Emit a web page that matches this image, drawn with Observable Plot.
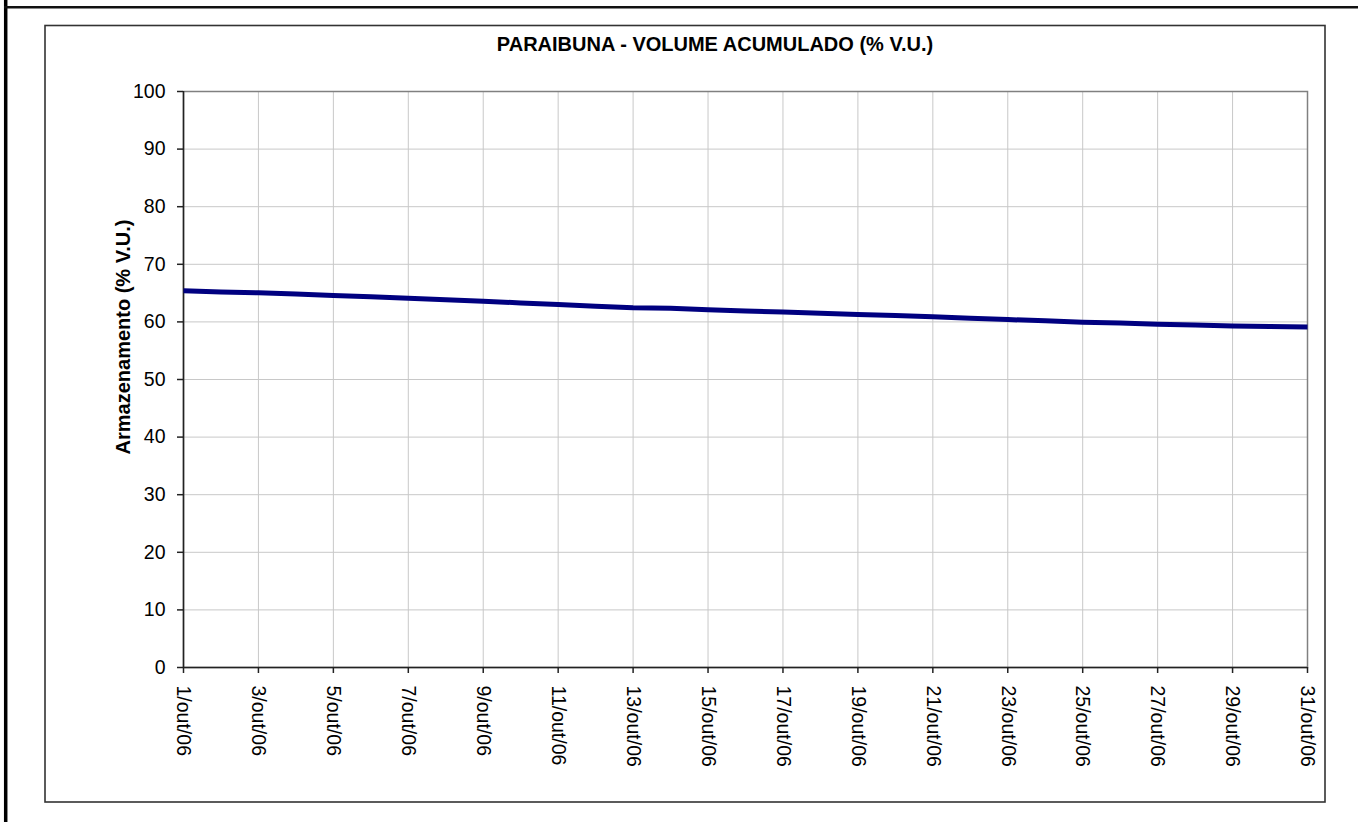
<!DOCTYPE html>
<html>
<head>
<meta charset="utf-8">
<script src="https://cdn.jsdelivr.net/npm/d3@7"></script>
<script src="https://cdn.jsdelivr.net/npm/@observablehq/plot@0.6"></script>
<style>
  html, body { margin: 0; padding: 0; background: #fff; }
  #chart svg { display: block; }
</style>
</head>
<body>
<div id="chart"></div>
<script>
const chartTitle = "PARAIBUNA - VOLUME ACUMULADO (% V.U.)";
const yLabel = "Armazenamento (% V.U.)";
const days = [1, 2, 3, 4, 5, 6, 7, 8, 9, 10, 11, 12, 13, 14, 15, 16, 17, 18, 19, 20, 21, 22, 23, 24, 25, 26, 27, 28, 29, 30, 31];
const volume = [65.4, 65.2, 65.05, 64.85, 64.6, 64.35, 64.1, 63.85, 63.6, 63.3, 63.0, 62.7, 62.45, 62.35, 62.1, 61.9, 61.7, 61.5, 61.3, 61.1, 60.9, 60.65, 60.4, 60.2, 59.95, 59.8, 59.6, 59.45, 59.3, 59.2, 59.1];
const xTicks = [1, 3, 5, 7, 9, 11, 13, 15, 17, 19, 21, 23, 25, 27, 29, 31];
const xTickLabels = ["1/out/06", "3/out/06", "5/out/06", "7/out/06", "9/out/06", "11/out/06", "13/out/06", "15/out/06", "17/out/06", "19/out/06", "21/out/06", "23/out/06", "25/out/06", "27/out/06", "29/out/06", "31/out/06"];
const yTicks = [0, 10, 20, 30, 40, 50, 60, 70, 80, 90, 100];

const data = days.map((d, i) => ({day: d, value: volume[i]}));

const chart = Plot.plot({
  width: 1358,
  height: 822,
  marginLeft: 183,
  marginRight: 51,
  marginTop: 91,
  marginBottom: 155,
  style: {fontFamily: "Arial, 'Liberation Sans', sans-serif", fontSize: "19.5px", color: "#000", background: "#fff"},
  x: {type: "linear", domain: [1, 31]},
  y: {type: "linear", domain: [0, 100]},
  marks: [
    Plot.gridX(xTicks, {stroke: "#c8c8c8", strokeOpacity: 1, strokeWidth: 1}),
    Plot.gridY(yTicks, {stroke: "#c8c8c8", strokeOpacity: 1, strokeWidth: 1}),
    Plot.frame({stroke: "#808080", strokeWidth: 1.5}),
    Plot.axisY(yTicks, {tickSize: 6, tickPadding: 12, label: null, stroke: "#222", strokeWidth: 1.5}),
    Plot.axisX(xTicks, {tickSize: 6, tickPadding: 12, tickRotate: 90, label: null, stroke: "#222", strokeWidth: 1.5,
      tickFormat: d => xTickLabels[xTicks.indexOf(d)]}),
    Plot.ruleX([1], {stroke: "#222", strokeWidth: 1.5}),
    Plot.ruleY([0], {stroke: "#222", strokeWidth: 1.5}),
    Plot.line(data, {x: "day", y: "value", stroke: "#000080", strokeWidth: 5, strokeLinejoin: "round", strokeLinecap: "butt"})
  ]
});

const svg = d3.select(chart);
// outer decoration lines
svg.append("line").attr("x1", 5.7).attr("x2", 5.7).attr("y1", 0).attr("y2", 822)
  .attr("stroke", "#000").attr("stroke-width", 3.5);
svg.append("line").attr("x1", 4).attr("x2", 1358).attr("y1", 7.3).attr("y2", 7.3)
  .attr("stroke", "#111").attr("stroke-width", 2.5);
// chart area frame
svg.append("rect").attr("x", 45).attr("y", 25.5).attr("width", 1280).attr("height", 776.5)
  .attr("fill", "none").attr("stroke", "#333").attr("stroke-width", 1.6);
// title
svg.append("text").attr("x", 715).attr("y", 51)
  .attr("text-anchor", "middle").attr("font-weight", "bold").attr("font-size", "20px")
  .attr("fill", "#000").text(chartTitle);
// y label
svg.append("text").attr("transform", "translate(130,337) rotate(-90)")
  .attr("text-anchor", "middle").attr("font-weight", "bold").attr("font-size", "20px")
  .attr("fill", "#000").text(yLabel);

document.getElementById("chart").appendChild(chart);
</script>
</body>
</html>
